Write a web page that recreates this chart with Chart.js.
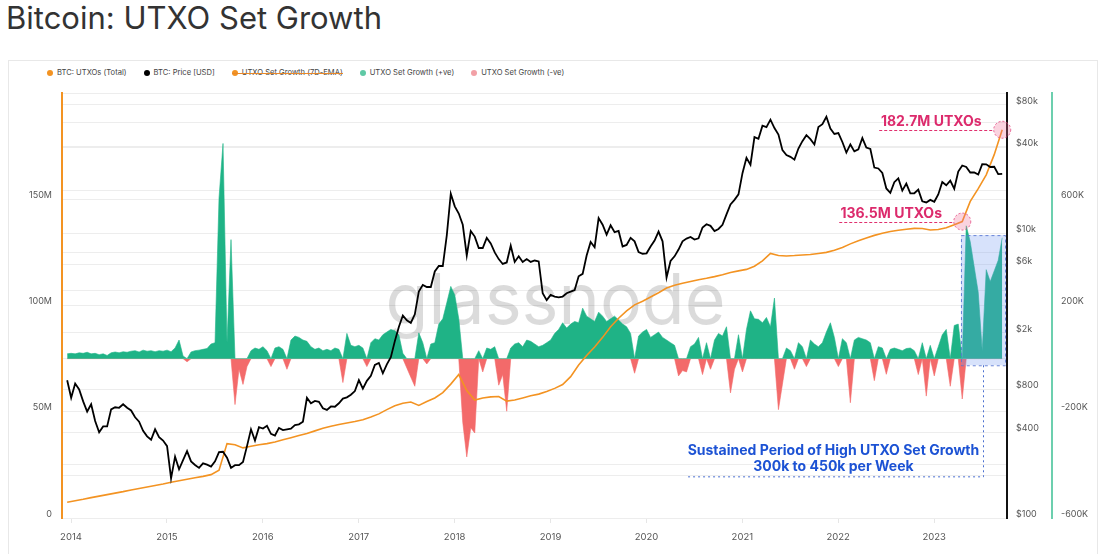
<!DOCTYPE html>
<html><head><meta charset="utf-8">
<script src="https://cdn.jsdelivr.net/npm/chart.js@4.4.1/dist/chart.umd.min.js"></script>
<style>
html,body{margin:0;padding:0;background:#fff;width:1100px;height:554px;overflow:hidden;font-family:Inter,"Noto Sans",sans-serif;}
#title{position:absolute;left:6px;top:0;font-size:31px;line-height:36px;color:#333;font-weight:400;white-space:nowrap;}
#panel{position:absolute;left:8px;top:60px;width:1090px;height:520px;border:1px solid #e8e8e8;box-sizing:border-box;}
#legend{position:absolute;left:47px;top:67px;display:flex;font-size:7.6px;line-height:12px;color:#444;white-space:nowrap;}
#legend .it{display:flex;align-items:center;margin-right:17px;position:relative;}
#legend .dot{width:6px;height:6px;border-radius:50%;margin-right:4px;}
#legend .strike{position:absolute;left:0;right:0;top:6px;height:1px;background:#e8892a;}
#c{position:absolute;left:0;top:0;}
</style></head>
<body>
<div id="title">Bitcoin: UTXO Set Growth</div>
<div id="panel"></div>
<div id="legend"></div>
<canvas id="c" width="1100" height="554"></canvas>
<script>
// ---------- data ----------
const START = 2013.96;           // first sample (decimal year)
const STEP = 1 / 24;             // semi-monthly samples
const yearTicks = [2014,2015,2016,2017,2018,2019,2020,2021,2022,2023];

// BTC price (USD), semi-monthly
const priceUSD = [930,700,880,800,660,560,630,480,400,440,440,580,600,595,630,595,570,510,475,410,375,355,420,370,350,320,
190,270,220,255,295,250,236,225,242,237,230,250,290,292,265,225,235,235,248,320,420,350,435,425,
445,390,380,430,415,420,425,450,455,475,700,640,665,655,590,575,608,605,640,690,705,735,780,930,
810,920,1000,1190,1230,1040,1200,1350,1750,2200,2650,2450,2350,2700,3900,4350,4200,4200,5400,5900,5900,9700,19000,15500,
13800,11500,7000,10400,9500,7900,7900,9300,8500,7350,6600,6100,6250,8200,6300,6900,6300,6600,6300,6450,6350,3800,3400,3700,
3600,3550,3600,3800,3900,4000,5000,5200,7000,8700,8000,12800,11500,9800,11400,10200,10400,8100,8300,9300,8800,7400,7200,7250,
8100,8900,10300,8800,4900,6400,6900,7700,8800,9200,9450,9050,9250,11000,11600,11300,10400,10750,11500,13600,16000,17200,18800,26500,
34000,30400,47500,46200,57200,55800,63000,55000,49500,38500,35500,34500,33000,39500,44500,49000,46000,42200,56000,58500,66000,54500,50000,50700,
43900,37000,42200,37700,39000,46800,40100,39200,29000,28600,26600,20700,19300,22900,24400,20000,22400,19100,19150,20300,16800,16500,17200,16700,
18800,23000,21800,23500,20600,27200,30000,29300,26800,26800,25900,30700,30600,29300,29400,26100,26200];

// UTXO set growth (thousands), semi-monthly
const growthK = [18,20,18,22,20,24,18,20,15,18,12,22,25,22,26,24,28,30,25,32,28,30,26,30,28,32,
26,40,70,10,-12,25,30,32,35,38,55,60,605,810,60,448,-173,-40,-97,-30,30,40,35,45,
30,-30,40,45,35,-40,70,85,80,70,65,45,35,40,30,35,30,40,35,-90,95,50,45,50,
40,-30,60,75,70,90,100,110,105,90,20,-35,-70,-104,97,60,-20,55,60,130,150,210,272,240,
150,-240,-370,-260,-280,30,-50,40,35,45,-100,-60,-198,40,55,60,45,70,65,55,45,50,60,70,
95,110,135,115,130,140,135,190,160,150,140,175,160,140,150,160,145,130,120,95,-55,85,100,110,
80,90,100,80,70,60,50,-65,-45,-50,45,55,80,-60,60,-40,70,95,85,120,-129,-40,90,-50,
110,180,150,148,135,155,120,228,-192,-96,40,30,-40,60,45,-30,70,55,45,60,100,135,80,-30,
75,60,-166,70,80,75,70,60,-83,45,40,-59,35,40,35,30,38,40,30,-60,60,-141,50,-65,
45,90,110,-104,125,130,-152,500,440,345,250,30,335,290,330,370,455];

// UTXOs total (millions), monthly
const utxoM = [7.4,8.1,8.8,9.6,10.3,11.0,11.7,12.4,13.2,13.9,14.6,15.3,
16.0,16.8,17.5,18.2,18.9,19.6,20.4,22.5,35,34.5,33,33.8,
34.5,35,35.8,36.8,37.8,38.8,39.8,41,42.2,43.2,44,44.7,
45.4,46.2,47.5,49,51,52.8,54,54.6,53,54.8,56.5,59,
63,67.5,60,55.5,56.5,57,57.2,55,55.5,56.5,57.5,58.3,
59.5,61,62.8,66.5,72,76.5,80.5,85,90,94,97.5,100.3,
102,104,106,108.2,109.5,110.5,111.3,112.1,112.8,113.6,114.5,115.5,
116.3,117,118.5,121,124.5,123.5,123.3,123.5,123.8,124,124.5,125,
126,127.3,129,130.5,131.8,133,134,134.8,135.4,135.9,136.3,136.2,
135.5,135.8,136.6,138,139.5,149,155,161.5,171,182.7];

const seriesNames = ['BTC: UTXOs (Total)','BTC: Price [USD]','UTXO Set Growth (7D-EMA)','UTXO Set Growth (+ve)','UTXO Set Growth (-ve)'];
const priceGrid = [100,200,400,800,2000,4000,6000,10000,20000,40000,60000,80000];
const priceLabeled = [100,400,800,2000,6000,10000,40000,80000];
const growthLabeled = [600000,200000,-200000,-600000];

// annotations
const callouts = [{k:117, text:'182.7M UTXOs'},{k:112, text:'136.5M UTXOs'}];
const boxYears = [2023.28, 2023.75];
const boxGrowth = [-25000, 465000];
const connectorYear = 2023.51, connectorStartYear = 2020.43, connectorGrowth = -445000;
const noteYear = 2021.95;
const noteLines = [['Sustained Period of High UTXO Set Growth', -346000],['300k to 450k per Week', -407000]];

// ---------- derived ----------
const priceDates = priceUSD.map((_, i) => START + i * STEP);
const utxoDates = utxoM.map((_, k) => START + k * 2 * STEP);
const pricePts = priceUSD.map((v, i) => ({x: priceDates[i], y: v}));
const utxoPts = utxoM.map((v, k) => ({x: utxoDates[k], y: v * 1e6}));
const posPts = growthK.map((v, i) => ({x: priceDates[i], y: Math.max(v, 0) * 1000}));
const negPts = growthK.map((v, i) => ({x: priceDates[i], y: Math.min(v, 0) * 1000}));

const COL = {utxo:'#f39322', price:'#000000', pos:'#1fb386', neg:'#f36a6a'};

// legend (HTML)
const legendDots = ['#f39322','#000','#f39322','#5fc9a5','#f2a0a6'];
const lg = document.getElementById('legend');
seriesNames.forEach((n, i) => {
  const it = document.createElement('span'); it.className = 'it';
  it.innerHTML = '<span class="dot" style="background:' + legendDots[i] + '"></span><span>' + n + '</span>' + (i === 2 ? '<span class="strike"></span>' : '');
  lg.appendChild(it);
});

Chart.defaults.font.family = 'Inter, "Noto Sans", sans-serif';

const annot = {
  id: 'annot',
  beforeDatasetsDraw(chart) {
    const {ctx, chartArea: a} = chart;
    ctx.save();
    ctx.font = '400 70px Inter, sans-serif';
    ctx.fillStyle = 'rgba(0,0,0,0.14)';
    ctx.textAlign = 'center'; ctx.textBaseline = 'alphabetic';
    ctx.fillText('glassnode', (a.left + a.right) / 2 + 21, a.top + 231);
    ctx.restore();
  },
  afterDatasetsDraw(chart) {
    const {ctx} = chart;
    const xS = chart.scales.x, yU = chart.scales.yU, yG = chart.scales.yG;
    ctx.save();
    // highlight box
    const bx0 = xS.getPixelForValue(boxYears[0]), bx1 = xS.getPixelForValue(boxYears[1]);
    const by0 = yG.getPixelForValue(boxGrowth[1]), by1 = yG.getPixelForValue(boxGrowth[0]);
    ctx.fillStyle = 'rgba(110,150,240,0.28)';
    ctx.fillRect(bx0, by0, bx1 - bx0, by1 - by0);
    ctx.setLineDash([3, 3]); ctx.lineWidth = 1; ctx.strokeStyle = 'rgba(90,120,210,0.9)';
    ctx.strokeRect(bx0 + 0.5, by0 + 0.5, bx1 - bx0 - 1, by1 - by0);
    // connector
    const cx = xS.getPixelForValue(connectorYear), cy = yG.getPixelForValue(connectorGrowth);
    const cx0 = xS.getPixelForValue(connectorStartYear);
    ctx.setLineDash([2, 3]); ctx.strokeStyle = '#4a6fd0';
    ctx.beginPath(); ctx.moveTo(Math.round(cx) + 0.5, by1); ctx.lineTo(Math.round(cx) + 0.5, cy);
    ctx.lineTo(cx0, cy); ctx.stroke();
    // note text
    ctx.setLineDash([]);
    ctx.fillStyle = '#1c52d4'; ctx.textAlign = 'center'; ctx.textBaseline = 'middle';
    ctx.font = 'bold 14px Inter, sans-serif';
    const nx = xS.getPixelForValue(noteYear);
    noteLines.forEach(([t, g]) => ctx.fillText(t, nx, yG.getPixelForValue(g)));
    // callouts
    callouts.forEach(c => {
      const px = xS.getPixelForValue(utxoDates[c.k]), py = yU.getPixelForValue(utxoM[c.k] * 1e6);
      ctx.setLineDash([3, 2]); ctx.strokeStyle = '#e0306e'; ctx.lineWidth = 1;
      ctx.beginPath(); ctx.moveTo(px - 123, Math.round(py) + 0.5); ctx.lineTo(px - 8, Math.round(py) + 0.5); ctx.stroke();
      ctx.beginPath(); ctx.arc(px, py, 8.5, 0, Math.PI * 2);
      ctx.fillStyle = 'rgba(240,110,150,0.3)'; ctx.fill();
      ctx.setLineDash([2, 2]); ctx.strokeStyle = 'rgba(225,60,120,0.8)'; ctx.stroke();
      ctx.setLineDash([]);
      ctx.fillStyle = '#dc2a6c'; ctx.font = 'bold 14px Inter, sans-serif';
      ctx.textAlign = 'center'; ctx.textBaseline = 'alphabetic';
      ctx.fillText(c.text, px - 71, py - 4);
    });
    ctx.restore();
  }
};

new Chart(document.getElementById('c'), {
  data: {
    datasets: [
      {type:'line', label:seriesNames[1], data:pricePts, yAxisID:'yP', borderColor:COL.price, borderWidth:1.8, pointRadius:0, tension:0, order:0},
      {type:'line', label:seriesNames[0], data:utxoPts, yAxisID:'yU', borderColor:COL.utxo, borderWidth:1.6, pointRadius:0, tension:0, order:1},
      {type:'line', label:seriesNames[3], data:posPts, yAxisID:'yG', borderColor:COL.pos, backgroundColor:COL.pos, borderWidth:0.6, pointRadius:0, tension:0, fill:'origin', order:2},
      {type:'line', label:seriesNames[4], data:negPts, yAxisID:'yG', borderColor:COL.neg, backgroundColor:COL.neg, borderWidth:0.6, pointRadius:0, tension:0, fill:'origin', order:3}
    ]
  },
  options: {
    responsive:false, animation:false, devicePixelRatio:1,
    layout:{padding:{left:8, right:0, top:93, bottom:0}},
    plugins:{legend:{display:false}, tooltip:{enabled:false}},
    scales:{
      x:{type:'linear', min:2013.906, max:2023.76,
        afterBuildTicks: s => { s.ticks = yearTicks.map(v => ({value:v})); },
        afterFit: s => { s.height = 36; },
        ticks:{callback: v => String(v), font:{size:9.5}, color:'#555', padding:8, maxRotation:0, autoSkip:false},
        grid:{drawOnChartArea:false, drawTicks:true, tickLength:5, color:'#e6e6e6'},
        border:{display:false}},
      yU:{type:'linear', position:'left', min:0, max:200e6,
        afterFit: s => { s.width = 54; },
        ticks:{stepSize:50e6, callback: v => v === 0 ? '0' : (v < 200e6 ? (v / 1e6) + 'M' : ''), font:{size:9}, color:'#555', padding:10, labelOffset:-4},
        grid:{drawOnChartArea:false, drawTicks:false},
        border:{color:COL.utxo, width:2}},
      yP:{type:'logarithmic', position:'right', weight:0, min:100, max:97000,
        afterBuildTicks: s => { s.ticks = priceGrid.map(v => ({value:v})); },
        afterFit: s => { s.width = 45; },
        ticks:{autoSkip:false, callback: v => priceLabeled.includes(v) ? (v >= 1000 ? '$' + (v / 1000) + 'k' : '$' + v) : '', font:{size:9}, color:'#555', padding:9, labelOffset:-4},
        grid:{color:'#ededed', drawTicks:false},
        border:{color:'#111', width:2}},
      yG:{type:'linear', position:'right', weight:1, min:-600000, max:1000000,
        afterFit: s => { s.width = 48; },
        ticks:{stepSize:200000, autoSkip:false, callback: v => growthLabeled.includes(v) ? (v / 1000) + 'K' : '', font:{size:9}, color:'#555', padding:9, labelOffset:-4},
        grid:{color:'#ededed', drawTicks:false},
        border:{color:'#6ccfae', width:2}}
    }
  },
  plugins:[annot]
});
</script>
</body></html>
